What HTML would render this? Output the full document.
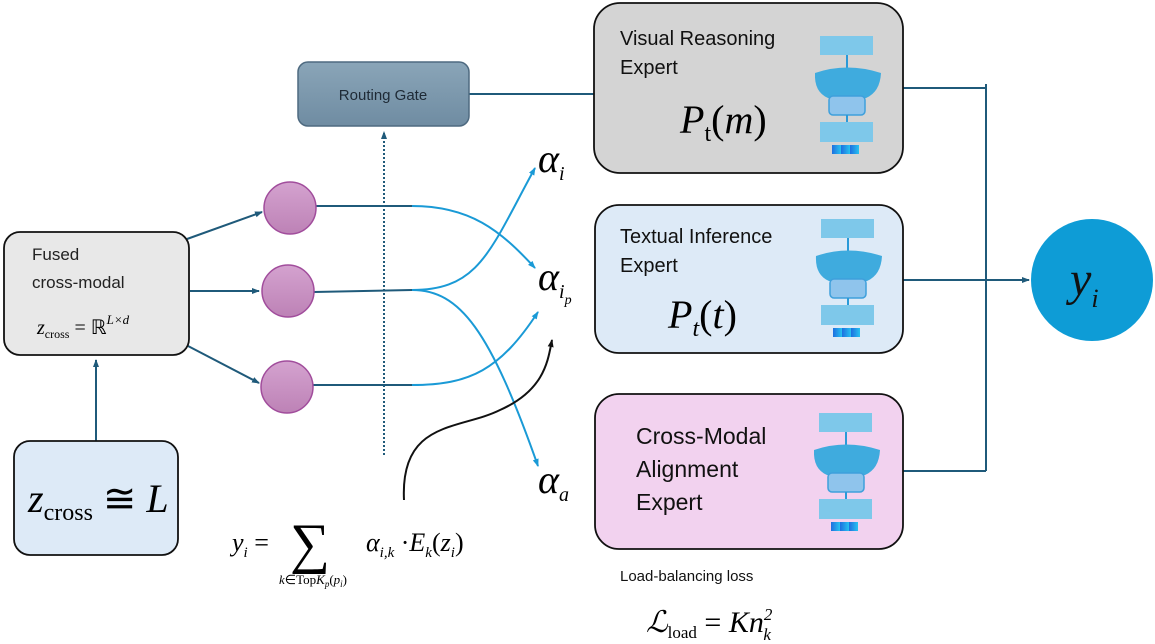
<!DOCTYPE html>
<html><head><meta charset="utf-8"><style>
html,body{margin:0;padding:0;background:#fff;}
svg{display:block;}
.s{font-family:"Liberation Sans","DejaVu Sans",sans-serif;}
.m{font-family:"Liberation Serif",serif;font-style:italic;}
.r{font-family:"Liberation Serif",serif;}
</style></head><body>
<svg width="1155" height="644" viewBox="0 0 1155 644" xmlns="http://www.w3.org/2000/svg">
<defs>
<marker id="ad" markerWidth="8" markerHeight="8" refX="7" refY="4" orient="auto" markerUnits="userSpaceOnUse"><path d="M0,1 L8,4 L0,7 z" fill="#1f5a7a"/></marker>
<marker id="ab" markerWidth="8" markerHeight="8" refX="7" refY="4" orient="auto" markerUnits="userSpaceOnUse"><path d="M0,1 L8,4 L0,7 z" fill="#1a9ad6"/></marker>
<marker id="ak" markerWidth="8" markerHeight="8" refX="7" refY="4" orient="auto" markerUnits="userSpaceOnUse"><path d="M0,1 L8,4 L0,7 z" fill="#111"/></marker>
<linearGradient id="gp" x1="0" y1="0" x2="0" y2="1"><stop offset="0" stop-color="#d4a2cf"/><stop offset="1" stop-color="#bd82b6"/></linearGradient>
<linearGradient id="gg" x1="0" y1="0" x2="0" y2="1"><stop offset="0" stop-color="#8aa5b8"/><stop offset="1" stop-color="#6f8ca2"/></linearGradient>
<linearGradient id="gb" x1="0" y1="0" x2="1" y2="0"><stop offset="0" stop-color="#1e6fe0"/><stop offset="1" stop-color="#27c2f0"/></linearGradient>
<g id="icon">
<rect x="0" y="0" width="53" height="19" fill="#7ec8ea"/>
<line x1="27" y1="19" x2="27" y2="34" stroke="#2a9ad8" stroke-width="2"/>
<path d="M-5,37 Q27,26 61,37 Q60,56 46,62 L8,62 Q-6,56 -5,37 z" fill="#3fabde"/>
<rect x="9" y="60" width="36" height="19" rx="4" fill="#8fc4ec" stroke="#3fa0dc" stroke-width="1.5"/>
<line x1="27" y1="79" x2="27" y2="86" stroke="#2a9ad8" stroke-width="2"/>
<rect x="0" y="86" width="53" height="20" fill="#7ec8ea"/>
<rect x="12" y="109" width="9" height="9" fill="url(#gb)"/>
<rect x="21" y="109" width="9" height="9" fill="url(#gb)"/>
<rect x="30" y="109" width="9" height="9" fill="url(#gb)"/>
</g>
</defs>

<g stroke="#1f5a7a" stroke-width="2" fill="none">
<line x1="96" y1="441" x2="96" y2="360" marker-end="url(#ad)"/>
<line x1="187" y1="239" x2="262" y2="212" marker-end="url(#ad)"/>
<line x1="190" y1="291" x2="259" y2="291" marker-end="url(#ad)"/>
<line x1="188" y1="346" x2="259" y2="383" marker-end="url(#ad)"/>
<line x1="469" y1="94" x2="594" y2="94"/>
<line x1="903" y1="88" x2="986" y2="88"/>
<line x1="986" y1="84" x2="986" y2="471"/>
<line x1="903" y1="471" x2="986" y2="471"/>
<line x1="903" y1="280" x2="1029" y2="280" marker-end="url(#ad)"/>
<line x1="316" y1="206" x2="412" y2="206"/>
<line x1="314" y1="292" x2="412" y2="290"/>
<line x1="312" y1="385" x2="412" y2="385"/>
</g>
<line x1="384" y1="455" x2="384" y2="132" stroke="#1f5a7a" stroke-width="2" stroke-dasharray="2,2" marker-end="url(#ad)"/>

<g stroke="#1a9ad6" stroke-width="2" fill="none">
<path d="M412,206 C470,206 500,230 535,268" marker-end="url(#ab)"/>
<path d="M412,290 C480,290 490,250 535,168" marker-end="url(#ab)"/>
<path d="M412,290 C460,290 490,330 538,466" marker-end="url(#ab)"/>
<path d="M412,385 C470,385 500,370 538,312" marker-end="url(#ab)"/>
</g>
<path d="M404,500 C400,420 460,430 500,410 C545,390 548,360 552,340" stroke="#111" stroke-width="2" fill="none" marker-end="url(#ak)"/>

<circle cx="290" cy="208" r="26" fill="url(#gp)" stroke="#a14d9c" stroke-width="1.5"/>
<circle cx="288" cy="291" r="26" fill="url(#gp)" stroke="#a14d9c" stroke-width="1.5"/>
<circle cx="287" cy="387" r="26" fill="url(#gp)" stroke="#a14d9c" stroke-width="1.5"/>

<rect x="298" y="62" width="171" height="64" rx="10" fill="url(#gg)" stroke="#4e6a80" stroke-width="1.5"/>
<text x="383" y="100" class="s" font-size="15" fill="#1e2a36" text-anchor="middle">Routing Gate</text>

<rect x="4" y="232" width="185" height="123" rx="16" fill="#e8e8e8" stroke="#111" stroke-width="1.8"/>
<text x="32" y="260" class="s" font-size="17" fill="#222">Fused</text>
<text x="32" y="288" class="s" font-size="17" fill="#222">cross-modal</text>
<text x="37" y="334" class="m" font-size="20">z<tspan class="r" font-style="normal" font-size="12" dy="4">cross</tspan><tspan font-style="normal" dy="-4"> = </tspan><tspan class="r" font-style="normal">ℝ</tspan><tspan font-size="13" dy="-10">L×d</tspan></text>

<rect x="14" y="441" width="164" height="114" rx="16" fill="#ddeaf7" stroke="#111" stroke-width="1.8"/>
<text x="28" y="512" class="m" font-size="40">z<tspan class="r" font-style="normal" font-size="24" dy="8">cross</tspan><tspan class="r" font-style="normal" dy="-8"> ≅ </tspan>L</text>

<text x="538" y="172" class="m" font-size="40">α<tspan font-size="20" dy="8">i</tspan></text>
<text x="538" y="290" class="m" font-size="40">α<tspan font-size="20" dy="8">i</tspan><tspan font-size="14" dy="6">p</tspan></text>
<text x="538" y="493" class="m" font-size="40">α<tspan font-size="20" dy="8">a</tspan></text>

<rect x="594" y="3" width="309" height="170" rx="26" fill="#d4d4d4" stroke="#111" stroke-width="1.8"/>
<text x="620" y="45" class="s" font-size="20" fill="#111">Visual  Reasoning</text>
<text x="620" y="74" class="s" font-size="20" fill="#111">Expert</text>
<text x="680" y="133" class="m" font-size="40">P<tspan class="r" font-style="normal" font-size="24" dy="8">t</tspan><tspan class="r" font-style="normal" dy="-8">(</tspan>m<tspan class="r" font-style="normal">)</tspan></text>
<use href="#icon" x="820" y="36"/>

<rect x="595" y="205" width="308" height="148" rx="24" fill="#ddeaf7" stroke="#111" stroke-width="1.8"/>
<text x="620" y="243" class="s" font-size="20" fill="#111">Textual Inference</text>
<text x="620" y="272" class="s" font-size="20" fill="#111">Expert</text>
<text x="668" y="328" class="m" font-size="40">P<tspan font-size="24" dy="8">t</tspan><tspan class="r" font-style="normal" dy="-8">(</tspan>t<tspan class="r" font-style="normal">)</tspan></text>
<use href="#icon" x="821" y="219"/>

<rect x="595" y="394" width="308" height="155" rx="24" fill="#f2d2ef" stroke="#111" stroke-width="1.8"/>
<text x="636" y="444" class="s" font-size="23" fill="#111">Cross-Modal</text>
<text x="636" y="477" class="s" font-size="23" fill="#111">Alignment</text>
<text x="636" y="510" class="s" font-size="23" fill="#111">Expert</text>
<use href="#icon" x="819" y="413"/>

<circle cx="1092" cy="280" r="61" fill="#0e9cd6"/>
<text x="1070" y="295" class="m" font-size="48" fill="#111">y<tspan font-size="26" dy="12">i</tspan></text>

<text x="232" y="551" class="m" font-size="26">y<tspan font-size="15" dy="6">i</tspan><tspan class="r" font-style="normal" dy="-6"> =</tspan></text>
<text x="290" y="562" class="r" font-size="56">∑</text>
<text x="279" y="584" class="m" font-size="13">k<tspan class="r" font-style="normal">∈Top</tspan>K<tspan font-size="9" dy="3">p</tspan><tspan class="r" font-style="normal" dy="-3">(</tspan>p<tspan font-size="9" dy="3">i</tspan><tspan class="r" font-style="normal" dy="-3">)</tspan></text>
<text x="366" y="551" class="m" font-size="26">α<tspan font-size="15" dy="6">i,k</tspan><tspan class="r" font-style="normal" dy="-6"> ·</tspan>E<tspan font-size="15" dy="6">k</tspan><tspan class="r" font-style="normal" dy="-6">(</tspan>z<tspan font-size="15" dy="6">i</tspan><tspan class="r" font-style="normal" dy="-6">)</tspan></text>

<text x="620" y="581" class="s" font-size="15" fill="#111">Load-balancing loss</text>
<text x="646" y="632" class="m" font-size="30">ℒ<tspan class="r" font-style="normal" font-size="17" dy="6">load</tspan><tspan class="r" font-style="normal" dy="-6"> = </tspan>Kn<tspan font-size="17" dy="-12">2</tspan><tspan font-size="17" dx="-9" dy="20">k</tspan></text>
</svg>
</body></html>
